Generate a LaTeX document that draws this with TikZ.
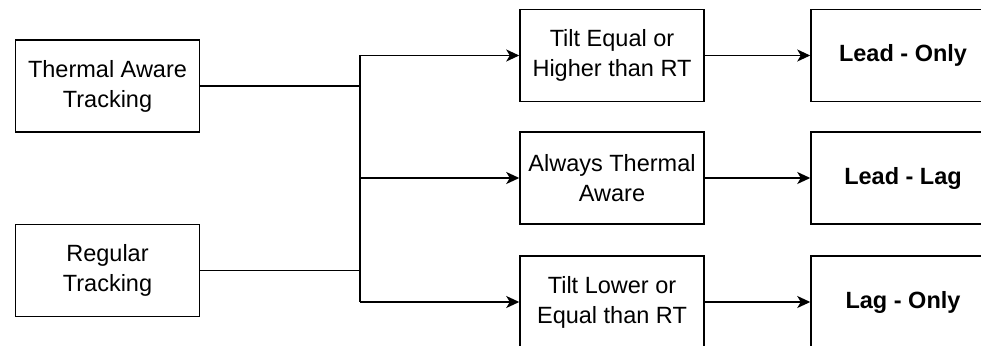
\documentclass[tikz,border=0pt]{standalone}
\usepackage{fontspec}
\setmainfont{Liberation Sans}
\usetikzlibrary{arrows.meta}
\begin{document}
\begin{tikzpicture}[x=1pt,y=-1pt,
  box/.style={draw, line width=1.5pt, minimum width=184pt, minimum height=92pt,
    inner sep=0pt, align=center, font=\fontsize{23.5}{30}\selectfont},
  outbox/.style={box, font=\fontsize{23.5}{30}\selectfont\bfseries},
  link/.style={line width=1.5pt},
  arrow/.style={link, -{Stealth[length=13pt,width=12pt,inset=3.5pt]}}]
  \useasboundingbox (0,0) rectangle (981,345);
  \clip (0,0) rectangle (981,345);
  % inputs
  \node[box] (tat) at (107.5,86) {Thermal Aware\\Tracking};
  \node[box] (reg) at (107.5,270.5) {Regular\\Tracking};
  % tilt rules
  \node[box] (hi)  at (612,55.5)  {Tilt Equal or\\Higher than RT};
  \node[box] (ta)  at (612,178)   {Always Thermal\\Aware};
  \node[box] (lo)  at (612,302)   {Tilt Lower or\\Equal than RT};
  % outcomes
  \node[outbox] (lead) at (903,55.5) {Lead - Only};
  \node[outbox] (ll)   at (903,178)  {Lead - Lag};
  \node[outbox] (lag)  at (903,302)  {Lag - Only};
  % junction bus
  \coordinate (jt) at (360,55.5);
  \coordinate (jm) at (360,178);
  \coordinate (jb) at (360,302);
  \draw[link] (jt) -- (jb);
  \draw[link] (tat.east) -- (tat.east -| jt);
  \draw[link] (reg.east) -- (reg.east -| jt);
  \draw[arrow] (jt) -- (hi.west);
  \draw[arrow] (jm) -- (ta.west);
  \draw[arrow] (jb) -- (lo.west);
  \draw[arrow] (hi.east) -- (lead.west);
  \draw[arrow] (ta.east) -- (ll.west);
  \draw[arrow] (lo.east) -- (lag.west);
\end{tikzpicture}
\end{document}
